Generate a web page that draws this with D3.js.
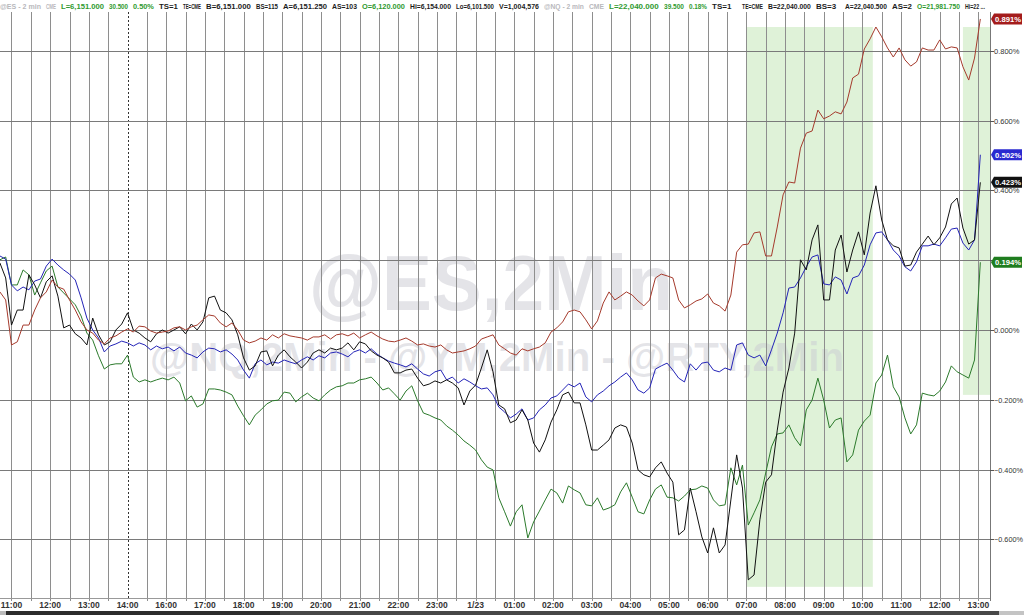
<!DOCTYPE html>
<html><head><meta charset="utf-8">
<script src="https://cdn.jsdelivr.net/npm/d3@7"></script>
<style>html,body{margin:0;padding:0;background:#fff;overflow:hidden}svg{display:block;font-family:"Liberation Sans",Arial,sans-serif}</style>
</head><body><svg id="chart" width="1024" height="615"></svg>
<script>
// ---------- DATA ----------
const hourLabels = ["11:00","12:00","13:00","14:00","16:00","17:00","18:00","19:00","20:00","21:00","22:00","23:00","1/23","01:00","02:00","03:00","04:00","05:00","06:00","07:00","08:00","09:00","10:00","11:00","12:00","13:00"];
const sessionBreakHour = 3; // 14:00 -> 16:00 gap
const startHour = -0.3, stepHours = 0.15; // series sampled every 9 minutes of session time

const seriesRed = [0.109,0.086,-0.043,-0.034,0.014,0.014,0.057,0.092,0.109,0.143,0.123,0.117,0.086,0.057,0.023,0,-0.009,-0.029,-0.040,-0.023,-0.017,-0.006,0.003,-0.006,0.011,0.009,-0.003,-0.009,-0.006,-0.003,0.006,0.009,0,0.009,0.014,0.029,0.043,0.040,0.020,0.009,0.020,0,-0.029,-0.037,-0.032,-0.023,-0.029,-0.014,-0.023,-0.011,-0.017,-0.020,-0.023,-0.029,-0.020,-0.020,-0.014,-0.026,-0.014,-0.011,-0.017,-0.009,-0.023,-0.014,-0.006,-0.017,-0.026,-0.032,-0.034,-0.029,-0.023,-0.032,-0.043,-0.040,-0.046,-0.049,-0.043,-0.057,-0.066,-0.063,-0.060,-0.054,-0.046,-0.026,-0.020,-0.014,-0.043,-0.054,-0.066,-0.072,-0.054,-0.060,-0.054,-0.049,-0.037,-0.006,0.006,0.023,0.052,0.057,0.052,0.029,0.003,0.026,0.077,0.109,0.086,0.097,0.109,0.100,0.083,0.069,0.086,0.149,0.160,0.155,0.149,0.086,0.063,0.072,0.083,0.089,0.103,0.077,0.069,0.054,0.100,0.223,0.244,0.246,0.278,0.281,0.212,0.212,0.295,0.387,0.424,0.421,0.521,0.564,0.570,0.630,0.605,0.613,0.625,0.619,0.653,0.722,0.733,0.805,0.834,0.868,0.840,0.808,0.782,0.808,0.774,0.756,0.768,0.808,0.802,0.802,0.831,0.805,0.811,0.808,0.754,0.716,0.779,0.891];
const seriesBlue = [0.212,0.203,0.129,0.112,0.123,0.115,0.140,0.146,0.183,0.203,0.186,0.172,0.160,0.143,0.092,0.034,0,-0.023,-0.063,-0.046,-0.040,-0.032,-0.037,-0.046,-0.037,-0.043,-0.057,-0.046,-0.054,-0.049,-0.060,-0.049,-0.066,-0.072,-0.080,-0.063,-0.052,-0.054,-0.063,-0.057,-0.069,-0.086,-0.115,-0.138,-0.097,-0.086,-0.100,-0.092,-0.095,-0.086,-0.092,-0.097,-0.086,-0.077,-0.086,-0.074,-0.080,-0.066,-0.063,-0.069,-0.077,-0.063,-0.057,-0.066,-0.054,-0.069,-0.080,-0.089,-0.095,-0.100,-0.106,-0.097,-0.112,-0.126,-0.132,-0.120,-0.115,-0.143,-0.135,-0.152,-0.140,-0.149,-0.160,-0.169,-0.166,-0.186,-0.221,-0.235,-0.252,-0.241,-0.226,-0.258,-0.252,-0.229,-0.215,-0.195,-0.189,-0.172,-0.155,-0.163,-0.152,-0.192,-0.206,-0.186,-0.175,-0.160,-0.149,-0.135,-0.123,-0.143,-0.172,-0.181,-0.166,-0.112,-0.103,-0.095,-0.115,-0.138,-0.149,-0.097,-0.115,-0.095,-0.092,-0.115,-0.120,-0.109,-0.115,-0.043,-0.037,-0.072,-0.080,-0.072,-0.103,-0.057,-0.009,0.049,0.120,0.123,0.149,0.181,0.209,0.215,0.132,0.129,0.152,0.143,0.103,0.149,0.155,0.186,0.244,0.278,0.281,0.258,0.229,0.212,0.181,0.169,0.195,0.241,0.241,0.246,0.241,0.264,0.289,0.292,0.249,0.229,0.258,0.502];
const seriesBlack = [0.192,0.149,0.014,0.057,0.057,0.158,0.129,0.092,0.138,0.155,0.097,0.006,0.014,-0.011,-0.023,-0.043,0.034,-0.014,-0.043,-0.034,0,0.017,0.049,0,-0.009,-0.023,-0.034,-0.011,0,-0.009,0,0.009,-0.011,0.017,0,0.023,0.092,0.097,0.057,0.049,0.029,-0.014,-0.080,-0.115,-0.103,-0.063,-0.060,-0.103,-0.072,-0.057,-0.077,-0.092,-0.109,-0.092,-0.066,-0.057,-0.066,-0.052,-0.057,-0.052,-0.037,-0.057,-0.034,-0.040,-0.060,-0.072,-0.080,-0.092,-0.123,-0.123,-0.115,-0.112,-0.138,-0.160,-0.155,-0.146,-0.152,-0.143,-0.152,-0.166,-0.215,-0.175,-0.158,-0.109,-0.057,-0.120,-0.215,-0.226,-0.266,-0.258,-0.229,-0.258,-0.324,-0.350,-0.315,-0.264,-0.229,-0.186,-0.178,-0.209,-0.209,-0.272,-0.344,-0.344,-0.330,-0.315,-0.281,-0.272,-0.278,-0.324,-0.401,-0.415,-0.421,-0.395,-0.378,-0.410,-0.436,-0.587,-0.573,-0.453,-0.521,-0.593,-0.639,-0.567,-0.639,-0.616,-0.487,-0.358,-0.453,-0.716,-0.702,-0.544,-0.436,-0.415,-0.287,-0.178,-0.109,-0.009,0.201,0.172,0.258,0.301,0.086,0.086,0.229,0.272,0.166,0.229,0.281,0.215,0.335,0.413,0.315,0.258,0.241,0.235,0.183,0.186,0.223,0.246,0.269,0.244,0.264,0.295,0.361,0.378,0.292,0.246,0.258,0.423];
const seriesGreen = [0.201,0.209,0.129,0.129,0.172,0.158,0.100,0.135,0.169,0.183,0.123,0.106,0.089,0.072,0.040,-0.009,-0.029,-0.074,-0.112,-0.100,-0.097,-0.097,-0.072,-0.135,-0.149,-0.143,-0.149,-0.143,-0.138,-0.143,-0.135,-0.152,-0.203,-0.189,-0.221,-0.212,-0.169,-0.169,-0.172,-0.178,-0.186,-0.218,-0.246,-0.272,-0.244,-0.229,-0.212,-0.203,-0.201,-0.178,-0.181,-0.206,-0.192,-0.181,-0.195,-0.203,-0.186,-0.172,-0.163,-0.160,-0.152,-0.152,-0.143,-0.140,-0.135,-0.152,-0.172,-0.166,-0.183,-0.201,-0.175,-0.160,-0.203,-0.238,-0.244,-0.252,-0.258,-0.275,-0.287,-0.301,-0.318,-0.330,-0.344,-0.372,-0.393,-0.401,-0.481,-0.521,-0.562,-0.521,-0.501,-0.596,-0.550,-0.519,-0.487,-0.456,-0.467,-0.496,-0.447,-0.458,-0.467,-0.501,-0.504,-0.481,-0.516,-0.510,-0.501,-0.464,-0.438,-0.479,-0.521,-0.527,-0.487,-0.456,-0.444,-0.479,-0.481,-0.490,-0.476,-0.458,-0.456,-0.447,-0.453,-0.487,-0.504,-0.501,-0.395,-0.444,-0.387,-0.559,-0.524,-0.487,-0.410,-0.335,-0.298,-0.295,-0.272,-0.309,-0.332,-0.229,-0.201,-0.138,-0.201,-0.281,-0.258,-0.252,-0.378,-0.358,-0.287,-0.261,-0.244,-0.152,-0.129,-0.072,-0.163,-0.192,-0.252,-0.298,-0.272,-0.181,-0.186,-0.189,-0.175,-0.149,-0.103,-0.120,-0.129,-0.138,-0.086,0.194];

const valueTicks = [-0.6,-0.4,-0.2,0,0.2,0.4,0.6,0.8];
const highlightFrom = [19.0, 24.6];
const highlightTo = [22.27, 25.3];
const highlightHigh = [0.868, 0.868];
const highlightLow = [-0.736, -0.186];

const headerTexts = ["@ES - 2 min","CME","L=6,151.000","30.500","0.50%","TS=1","TE=CME","B=6,151.000","BS=115","A=6,151.250","AS=103","O=6,120.000","Hi=6,154.000","Lo=6,101.500","V=1,004,576","@NQ - 2 min","CME","L=22,040.000","39.500","0.18%","TS=1","TE=CME","B=22,040.000","BS=3","A=22,040.500","AS=2","O=21,981.750","Hi=22 ..."];
const headerKinds = ["sym","sym","up","up","up","txt","txt","txt","txt","txt","txt","up","txt","txt","txt","sym","sym","up","up","up","txt","txt","txt","txt","txt","txt","up","txt"];
const watermarkMain = "@ES,2Min";
const watermarkSub = "@NQ,2Min - @YM,2Min - @RTY,2Min";

// ---------- LAYOUT / STYLE ----------
const W = 1024, H = 615;
const plot = {left: 0, right: 990, top: 12, bottom: 598};
const headerX = [0,46,61,109,133,159,183,206,256,283,332,362,410,456,499,544,589,609,664,689,712,742,768,816,845,892,917,965];
const headerColor = {sym: "#b8b8bc", up: "#2f9a2f", txt: "#1c1c1c"};
const lineColors = {red: "#a53a2c", blue: "#2424b8", black: "#111111", green: "#2b7a2b"};
const tagColors = {red: "#a41c1c", blue: "#2a2ad0", black: "#111111", green: "#1f7d1f"};

const svg = d3.select("#chart");
svg.append("rect").attr("width", W).attr("height", H).attr("fill", "#fff");

const x = d3.scaleLinear().domain([-0.297, 25.3]).range([plot.left, plot.right]);
const y = d3.scaleLinear().domain([-0.768, 0.911]).range([plot.bottom, plot.top]);

// highlight regions
svg.append("g").selectAll("rect").data(highlightFrom).join("rect")
  .attr("x", (d,i) => x(d)).attr("width", (d,i) => x(highlightTo[i]) - x(d))
  .attr("y", (d,i) => y(highlightHigh[i])).attr("height", (d,i) => y(highlightLow[i]) - y(highlightHigh[i]))
  .attr("fill", "#dff2d8");

// watermark
const wm = svg.append("g").attr("font-weight", "bold").attr("text-anchor", "middle").attr("fill", "#c9cad2").attr("fill-opacity", 0.5);
wm.append("text").attr("x", (plot.left+plot.right)/2 - 4).attr("y", 310).attr("font-size", 78)
  .attr("textLength", 364).attr("lengthAdjust", "spacingAndGlyphs").text(watermarkMain);
wm.append("text").attr("x", (plot.left+plot.right)/2 + 2).attr("y", 371).attr("font-size", 40)
  .attr("textLength", 694).attr("lengthAdjust", "spacingAndGlyphs").text(watermarkSub);

// vertical grid (every half hour)
const halfHours = d3.range(0, 25.01, 0.5);
svg.append("g").selectAll("line").data(halfHours.filter(h => h !== sessionBreakHour)).join("line")
  .attr("x1", d => Math.round(x(d)) + 0.5).attr("x2", d => Math.round(x(d)) + 0.5)
  .attr("y1", plot.top).attr("y2", plot.bottom + 3)
  .attr("stroke", "#8e8e8e").attr("stroke-width", 1);
svg.append("line")
  .attr("x1", Math.round(x(sessionBreakHour)) + 0.5).attr("x2", Math.round(x(sessionBreakHour)) + 0.5)
  .attr("y1", plot.top).attr("y2", plot.bottom)
  .attr("stroke", "#333").attr("stroke-dasharray", "2,2").attr("stroke-width", 1);

// horizontal grid
svg.append("g").selectAll("line").data(valueTicks).join("line")
  .attr("x1", plot.left).attr("x2", plot.right)
  .attr("y1", d => Math.round(y(d)) + 0.5).attr("y2", d => Math.round(y(d)) + 0.5)
  .attr("stroke", "#7a7a7a").attr("stroke-width", 1);

// axis frame
svg.append("line").attr("x1", plot.right + 0.5).attr("x2", plot.right + 0.5).attr("y1", plot.top).attr("y2", plot.bottom + 3).attr("stroke", "#777");
svg.append("line").attr("x1", 0).attr("x2", plot.right).attr("y1", plot.bottom + 0.5).attr("y2", plot.bottom + 0.5).attr("stroke", "#999");

// header (each segment compressed horizontally to fit before the next one)
const hdr = svg.append("g").attr("font-size", 8).attr("font-weight", "bold");
headerTexts.forEach((t, i) => {
  const gEl = hdr.append("g");
  const el = gEl.append("text").attr("x", 0).attr("y", 0)
    .attr("fill", headerColor[headerKinds[i]]).text(t);
  const avail = (i < headerTexts.length - 1 ? headerX[i+1] : 990) - headerX[i] - 5;
  const len = el.node().getComputedTextLength();
  const sx = Math.min(1, avail / len);
  gEl.attr("transform", `translate(${headerX[i]},9) scale(${sx},1)`);
});

// lines
svg.append("clipPath").attr("id", "pc").append("rect")
  .attr("x", plot.left).attr("y", plot.top).attr("width", plot.right - plot.left).attr("height", plot.bottom - plot.top);
const line = d3.line().x((d,i) => x(startHour + i*stepHours)).y(d => y(d));
const seriesList = [["green", seriesGreen], ["blue", seriesBlue], ["black", seriesBlack], ["red", seriesRed]];
const lg = svg.append("g").attr("clip-path", "url(#pc)");
seriesList.forEach(([k, s]) => {
  lg.append("path").datum(s).attr("d", line).attr("fill", "none")
    .attr("stroke", lineColors[k]).attr("stroke-width", 1).attr("stroke-linejoin", "round");
});

// x axis labels
svg.append("g").attr("font-size", 8.5).attr("font-weight", "bold").attr("fill", "#333").attr("text-anchor", "middle")
  .selectAll("text").data(hourLabels).join("text")
  .attr("x", (d,i) => x(i)).attr("y", 608).text(d => d);

// right axis ticks + labels (a label covered by a last-value tag is not shown, as in the original)
const fmt = v => d3.format(".3f")(v) + "%";
const tags = seriesList.map(([k, s]) => ({k, v: s[s.length - 1]}));
const covered = v => tags.some(t => Math.abs(y(t.v) - y(v)) < 5);
const ra = svg.append("g");
ra.selectAll("line").data(valueTicks).join("line")
  .attr("x1", plot.right).attr("x2", plot.right + 4)
  .attr("y1", d => Math.round(y(d)) + 0.5).attr("y2", d => Math.round(y(d)) + 0.5).attr("stroke", "#555");
ra.selectAll("text").data(valueTicks.filter(v => !covered(v))).join("text")
  .attr("x", plot.right + 4).attr("y", d => y(d) + 3)
  .attr("font-size", 7.5).attr("fill", "#333").text(d => fmt(d))
  .each(function() {
    const len = this.getComputedTextLength();
    if (len > 29) d3.select(this).attr("textLength", 29).attr("lengthAdjust", "spacingAndGlyphs");
  });

// last value tags
const tg = svg.append("g");
tags.forEach(t => {
  const cy = y(t.v);
  tg.append("path").attr("d", `M${plot.right+1},${cy} L${plot.right+4},${cy-5.5} L${W-2},${cy-5.5} L${W-2},${cy+5.5} L${plot.right+4},${cy+5.5} Z`)
    .attr("fill", tagColors[t.k]);
  const el = tg.append("text").attr("x", plot.right + 5).attr("y", cy + 3).attr("font-size", 8).attr("font-weight", "bold")
    .attr("fill", "#fff").text(fmt(t.v));
  if (el.node().getComputedTextLength() > 26) el.attr("textLength", 26).attr("lengthAdjust", "spacingAndGlyphs");
});

// bottom scroll strip
svg.append("rect").attr("x", 0).attr("y", 611).attr("width", W).attr("height", 4).attr("fill", "#474747");
svg.append("rect").attr("x", 0).attr("y", 611).attr("width", 280).attr("height", 4).attr("fill", "#2c2c2c");
svg.append("rect").attr("x", 0).attr("y", 611).attr("width", 6).attr("height", 4).attr("fill", "#bbb");
svg.append("rect").attr("x", 999).attr("y", 611).attr("width", 25).attr("height", 4).attr("fill", "#c4c4c4");
</script></body></html>
